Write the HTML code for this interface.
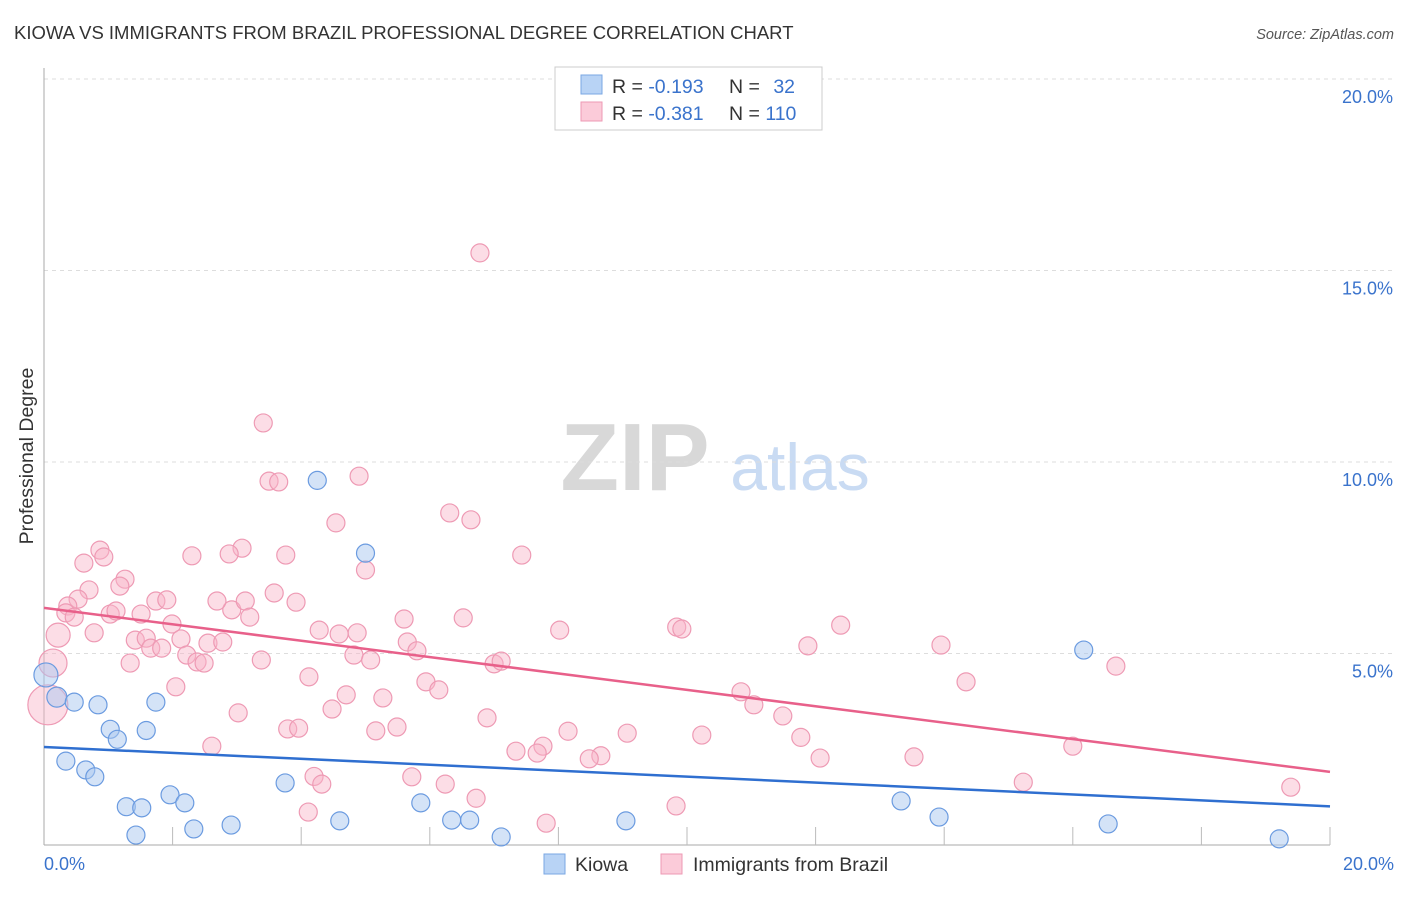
<!DOCTYPE html>
<html><head><meta charset="utf-8">
<style>
body{margin:0;background:#fff;font-family:"Liberation Sans",sans-serif;}
svg text{font-family:"Liberation Sans",sans-serif;}
</style></head>
<body>
<svg id="chart" width="1406" height="892" viewBox="0 0 1406 892" xmlns="http://www.w3.org/2000/svg">
<text x="14" y="39" font-size="18.5" fill="#333">KIOWA VS IMMIGRANTS FROM BRAZIL PROFESSIONAL DEGREE CORRELATION CHART</text>
<text x="1394" y="39" font-size="14.5" fill="#555" font-style="italic" text-anchor="end">Source: ZipAtlas.com</text>
<text transform="translate(33,456) rotate(-90)" font-size="19.5" fill="#333" text-anchor="middle">Professional Degree</text>
<g>
<text x="635" y="490" font-size="96" fill="#d8d8d8" font-family="Liberation Serif" font-weight="bold" text-anchor="middle">ZIP</text>
<text x="800" y="490" font-size="66" fill="#c9dbf3" text-anchor="middle">atlas</text>
</g>
<g id="grid"></g>
<g id="axes"></g>
<g id="marks"></g>
<g>
<rect x="555" y="67" width="267" height="63" fill="#fff" stroke="#ccc"/>
<rect x="581" y="75" width="21" height="19" fill="#b8d3f5" stroke="#7aa7e3"/>
<rect x="581" y="102" width="21" height="19" fill="#fbcbd9" stroke="#ee9ab4"/>
<text x="612" y="93" font-size="19.5" fill="#333">R = <tspan fill="#3a73cc">-0.193</tspan></text>
<text x="729" y="93" font-size="19.5" fill="#333">N = <tspan fill="#3a73cc" dx="8">32</tspan></text>
<text x="612" y="120" font-size="19.5" fill="#333">R = <tspan fill="#3a73cc">-0.381</tspan></text>
<text x="729" y="120" font-size="19.5" fill="#333">N = <tspan fill="#3a73cc">110</tspan></text>
</g>
<g>
<rect x="544" y="854" width="21" height="20" fill="#b8d3f5" stroke="#7aa7e3"/>
<text x="575" y="871" font-size="19.5" fill="#333">Kiowa</text>
<rect x="661" y="854" width="21" height="20" fill="#fbcbd9" stroke="#ee9ab4"/>
<text x="693" y="871" font-size="19.5" fill="#333">Immigrants from Brazil</text>
</g>
</svg>
<script>
const yTicks=[5,10,15,20];
const yTickLabels=["5.0%","10.0%","15.0%","20.0%"];
const xTickLabels=["0.0%","20.0%"];
const kiowaX=[0.03,0.2,0.47,0.84,0.34,0.65,0.79,1.03,1.14,1.59,1.74,1.28,1.52,1.43,1.96,2.19,2.33,2.91,3.75,4.25,4.6,5.0,5.86,6.34,6.62,7.11,9.05,13.33,13.92,16.17,16.55,19.21];
const kiowaY=[4.44,3.86,3.73,3.66,2.19,1.96,1.78,3.02,2.76,2.99,3.73,1.00,0.97,0.26,1.31,1.10,0.42,0.52,1.62,9.52,0.63,7.62,1.10,0.65,0.65,0.21,0.63,1.15,0.73,5.09,0.55,0.16];
const kiowaR=[12,10,9,9,9,9,9,9,9,9,9,9,9,9,9,9,9,9,9,9,9,9,9,9,9,9,9,9,9,9,9,9];
const brazilX=[6.78,3.41,3.5,3.65,4.9,4.54,6.31,6.64,7.43,5.0,3.76,3.08,2.88,2.3,0.87,0.93,0.62,1.26,1.18,0.7,0.53,0.37,0.34,0.47,0.22,0.14,0.06,0.78,1.03,1.12,1.51,1.74,1.91,2.92,3.13,3.2,3.58,3.92,2.69,1.99,1.42,1.59,1.66,1.83,2.13,2.55,2.78,2.22,2.38,2.49,1.34,3.38,4.28,4.59,4.87,5.6,6.52,5.65,5.8,4.82,5.08,4.12,2.05,4.7,5.27,4.48,3.02,5.94,6.14,8.02,9.84,9.92,12.39,11.88,13.95,16.67,14.34,7.0,7.11,10.84,11.04,11.49,6.89,5.49,5.16,3.79,3.96,2.61,8.15,9.07,10.23,11.77,7.34,7.76,7.67,8.66,8.48,12.07,13.53,16.0,4.2,4.32,5.72,6.24,6.72,4.11,9.83,7.81,15.23,19.39];
const brazilY=[15.46,11.02,9.5,9.48,9.63,8.41,8.67,8.49,7.57,7.18,7.57,7.75,7.6,7.55,7.7,7.52,7.36,6.94,6.76,6.66,6.42,6.24,6.06,5.95,5.48,4.75,3.66,5.54,6.03,6.11,6.03,6.37,6.4,6.14,6.37,5.95,6.58,6.34,6.37,5.77,5.35,5.4,5.14,5.14,5.38,5.27,5.3,4.96,4.78,4.75,4.75,4.83,5.61,5.51,5.54,5.9,5.93,5.3,5.07,4.96,4.83,4.39,4.13,3.92,3.84,3.55,3.45,4.26,4.05,5.61,5.69,5.64,5.74,5.2,5.22,4.67,4.26,4.73,4.8,4.0,3.66,3.37,3.32,3.08,2.98,3.03,3.05,2.58,2.97,2.92,2.87,2.81,2.45,2.58,2.4,2.33,2.25,2.27,2.3,2.58,1.79,1.59,1.78,1.59,1.22,0.86,1.02,0.57,1.64,1.51];
const kiowaTrend=[2.56,1.01];
const brazilTrend=[6.19,1.91];
const X0=44,X1=1330,Y0=845,Y20=79;
const sx=v=>X0+(X1-X0)*v/20;
const sy=v=>Y0-(Y0-Y20)*v/20;
const NS="http://www.w3.org/2000/svg";
function mk(tag,attrs,parent){const e=document.createElementNS(NS,tag);for(const k in attrs)e.setAttribute(k,attrs[k]);parent.appendChild(e);return e;}
const grid=document.getElementById('grid'),axes=document.getElementById('axes'),marks=document.getElementById('marks');
yTicks.forEach((t,i)=>{
 const l=mk('line',{x1:X0,x2:1394,y1:sy(t),y2:sy(t),stroke:'#ddd','stroke-dasharray':'4,4'},grid);
 
 
 const tx=mk('text',{x:1393,y:sy(t)+24,'font-size':18,fill:'#3a73cc','text-anchor':'end'},axes);
 tx.textContent=yTickLabels[i];
 
 
});
const ya=mk('line',{x1:X0,x2:X0,y1:68,y2:Y0,stroke:'#aaa'},axes);


const xa=mk('line',{x1:X0,x2:X1,y1:Y0,y2:Y0,stroke:'#aaa'},axes);


for(let i=1;i<=10;i++){
 const tk=mk('line',{x1:sx(i*2),x2:sx(i*2),y1:Y0,y2:Y0-18,stroke:'#bbb'},axes);
 
 
}
[[0,'start',X0],[1,'end',1394]].forEach(([i,a,x])=>{
 const t=mk('text',{x:x,y:870,'font-size':18,fill:'#3a73cc','text-anchor':a},axes);
 t.textContent=xTickLabels[i];
 
 
});
brazilX.forEach((v,i)=>{
 const r=i==26?20:(i==25?14:(i==24?12:9));
 const c=mk('circle',{cx:sx(v),cy:sy(brazilY[i]),r:r,fill:'rgba(248,180,200,0.45)',stroke:'#ee9ab4','stroke-width':1.2},marks);
 
 
});
kiowaX.forEach((v,i)=>{
 const c=mk('circle',{cx:sx(v),cy:sy(kiowaY[i]),r:kiowaR[i],fill:'rgba(170,200,240,0.5)',stroke:'#6b9be0','stroke-width':1.2},marks);
 
 
});
const bt=mk('line',{x1:sx(0),x2:sx(20),y1:sy(brazilTrend[0]),y2:sy(brazilTrend[1]),stroke:'#e8608a','stroke-width':2.5},marks);


const kt=mk('line',{x1:sx(0),x2:sx(20),y1:sy(kiowaTrend[0]),y2:sy(kiowaTrend[1]),stroke:'#2f6fd0','stroke-width':2.5},marks);


</script>
</body></html>
